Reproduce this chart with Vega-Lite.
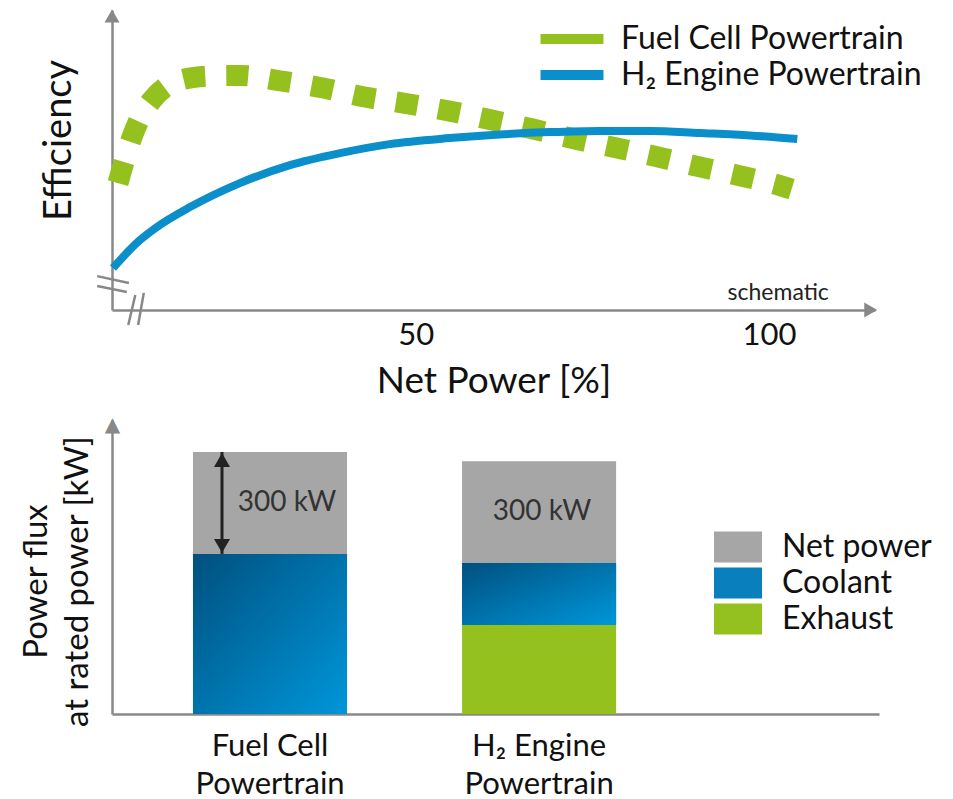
{
  "$schema": "https://vega.github.io/schema/vega-lite/v6.json",
  "background": "white",
  "padding": {"left": 20, "top": 9, "right": 0, "bottom": 0},
  "bounds": "flush",
  "spacing": 110,
  "config": {
    "font": "Lato",
    "view": {"stroke": null},
    "axis": {
      "domainColor": "#888888", "domainWidth": 2.5, "domainCap": "butt",
      "ticks": false, "grid": false,
      "labelFont": "Lato", "titleFont": "Lato",
      "labelColor": "#111111", "titleColor": "#111111", "titleFontWeight": "normal"
    },
    "legend": {"labelFont": "Lato", "labelColor": "#111111", "padding": 0, "labelLimit": 0}
  },
  "resolve": {"scale": {"color": "independent"}},
  "datasets": {
    "curves": [
      {"series": "Fuel Cell Powertrain", "p": 7.85, "eff": 42.3},
      {"series": "Fuel Cell Powertrain", "p": 8.7, "eff": 49.3},
      {"series": "Fuel Cell Powertrain", "p": 9.69, "eff": 56.7},
      {"series": "Fuel Cell Powertrain", "p": 10.96, "eff": 64.0},
      {"series": "Fuel Cell Powertrain", "p": 12.66, "eff": 70.0},
      {"series": "Fuel Cell Powertrain", "p": 14.8, "eff": 74.7},
      {"series": "Fuel Cell Powertrain", "p": 17.3, "eff": 77.0},
      {"series": "Fuel Cell Powertrain", "p": 20.9, "eff": 78.0},
      {"series": "Fuel Cell Powertrain", "p": 25.0, "eff": 78.2},
      {"series": "Fuel Cell Powertrain", "p": 31.1, "eff": 76.3},
      {"series": "Fuel Cell Powertrain", "p": 36.9, "eff": 74.0},
      {"series": "Fuel Cell Powertrain", "p": 42.8, "eff": 71.0},
      {"series": "Fuel Cell Powertrain", "p": 48.9, "eff": 68.7},
      {"series": "Fuel Cell Powertrain", "p": 54.8, "eff": 66.3},
      {"series": "Fuel Cell Powertrain", "p": 60.8, "eff": 63.3},
      {"series": "Fuel Cell Powertrain", "p": 66.6, "eff": 60.3},
      {"series": "Fuel Cell Powertrain", "p": 72.5, "eff": 57.0},
      {"series": "Fuel Cell Powertrain", "p": 78.5, "eff": 54.0},
      {"series": "Fuel Cell Powertrain", "p": 84.3, "eff": 51.0},
      {"series": "Fuel Cell Powertrain", "p": 90.2, "eff": 47.7},
      {"series": "Fuel Cell Powertrain", "p": 96.0, "eff": 44.7},
      {"series": "Fuel Cell Powertrain", "p": 101.8, "eff": 41.3},
      {"series": "Fuel Cell Powertrain", "p": 103.2, "eff": 40.3},
      {"series": "H₂ Engine Powertrain", "p": 7.14, "eff": 14.0},
      {"series": "H₂ Engine Powertrain", "p": 8.56, "eff": 17.7},
      {"series": "H₂ Engine Powertrain", "p": 10.96, "eff": 23.3},
      {"series": "H₂ Engine Powertrain", "p": 13.37, "eff": 27.7},
      {"series": "H₂ Engine Powertrain", "p": 18.04, "eff": 34.3},
      {"series": "H₂ Engine Powertrain", "p": 25.1, "eff": 42.3},
      {"series": "H₂ Engine Powertrain", "p": 32.2, "eff": 48.3},
      {"series": "H₂ Engine Powertrain", "p": 39.3, "eff": 52.3},
      {"series": "H₂ Engine Powertrain", "p": 46.3, "eff": 55.3},
      {"series": "H₂ Engine Powertrain", "p": 54.8, "eff": 57.3},
      {"series": "H₂ Engine Powertrain", "p": 61.9, "eff": 58.5},
      {"series": "H₂ Engine Powertrain", "p": 69.0, "eff": 59.3},
      {"series": "H₂ Engine Powertrain", "p": 76.1, "eff": 59.7},
      {"series": "H₂ Engine Powertrain", "p": 83.2, "eff": 59.7},
      {"series": "H₂ Engine Powertrain", "p": 90.2, "eff": 59.0},
      {"series": "H₂ Engine Powertrain", "p": 97.3, "eff": 58.2},
      {"series": "H₂ Engine Powertrain", "p": 104.0, "eff": 57.0}
    ],
    "breaks": [
      {"p": 4.9, "eff": 11.3, "p2": 9.4, "eff2": 9.0},
      {"p": 4.9, "eff": 8.0, "p2": 9.1, "eff2": 6.0},
      {"p": 9.3, "eff": -5.0, "p2": 10.3, "eff2": 5.0},
      {"p": 10.7, "eff": -5.0, "p2": 11.5, "eff2": 5.7}
    ],
    "arrows": [
      {"p": 7, "eff": 98, "dir": "up"},
      {"p": 114.4, "eff": 0, "dir": "right"}
    ],
    "notes": [
      {"p": 101.3, "eff": 5.7, "note": "schematic"}
    ],
    "flux": [
      {"train": "Fuel Cell Powertrain", "part": "Coolant", "kw": 471},
      {"train": "Fuel Cell Powertrain", "part": "Net power", "kw": 300},
      {"train": "H₂ Engine Powertrain", "part": "Exhaust", "kw": 262},
      {"train": "H₂ Engine Powertrain", "part": "Coolant", "kw": 182},
      {"train": "H₂ Engine Powertrain", "part": "Net power", "kw": 300}
    ]
  },
  "vconcat": [
    {
      "width": 763,
      "height": 300,
      "encoding": {
        "x": {"field": "p", "type": "quantitative",
          "scale": {"domain": [7, 115], "nice": false, "zero": false},
          "axis": {"values": [50, 100], "labelFontSize": 31, "labelPadding": 10, "labelFlush": false,
            "title": "Net Power [%]", "titleFontSize": 37, "titlePadding": 13}},
        "y": {"field": "eff", "type": "quantitative",
          "scale": {"domain": [0, 100], "nice": false, "zero": false},
          "axis": {"labels": false, "title": "Efficiency", "titleFontSize": 38, "titleAngle": 270,
            "titleAlign": "center", "titleBaseline": "middle", "titleX": -53, "titleY": 130}}
      },
      "layer": [
        {
          "data": {"name": "curves"},
          "transform": [{"filter": "datum.series === 'Fuel Cell Powertrain'"}],
          "mark": {"type": "line", "strokeWidth": 21, "strokeDash": [22, 21], "strokeCap": "butt", "interpolate": "monotone", "clip": false},
          "encoding": {
            "color": {"field": "series", "type": "nominal",
              "scale": {"domain": ["Fuel Cell Powertrain", "H₂ Engine Powertrain"], "range": ["#95c11f", "#0a8fcb"]},
              "legend": {"orient": "none", "legendX": 444, "legendY": 13, "title": null,
                "symbolType": "M-3,0H3", "symbolSize": 441, "symbolStrokeWidth": 10, "symbolDash": [1, 0],
                "labelFontSize": 32, "labelOffset": 33, "rowPadding": -5,
                "encode": {"symbols": {"update": {"strokeDash": {"value": [1, 0]}, "strokeWidth": {"value": 10}, "strokeCap": {"value": "butt"}}}}}}
          }
        },
        {
          "data": {"name": "curves"},
          "transform": [{"filter": "datum.series === 'H₂ Engine Powertrain'"}],
          "mark": {"type": "line", "strokeWidth": 8, "interpolate": "monotone", "clip": false},
          "encoding": {
            "color": {"field": "series", "type": "nominal"}
          }
        },
        {
          "data": {"name": "breaks"},
          "mark": {"type": "rule", "color": "#888888", "strokeWidth": 2.5},
          "encoding": {"x2": {"field": "p2"}, "y2": {"field": "eff2"}}
        },
        {
          "data": {"name": "arrows"},
          "mark": {"type": "point", "filled": true, "opacity": 1, "color": "#888888", "size": 225},
          "encoding": {"shape": {"field": "dir", "type": "nominal",
            "scale": {"domain": ["up", "right"], "range": ["triangle-up", "triangle-right"]}, "legend": null}}
        },
        {
          "data": {"name": "notes"},
          "mark": {"type": "text", "fontSize": 23, "color": "#222222", "font": "Lato"},
          "encoding": {"text": {"field": "note", "type": "nominal"}}
        }
      ]
    },
    {
      "width": 767,
      "height": 294,
      "data": {"name": "flux"},
      "transform": [{"stack": "kw", "groupby": ["train"], "as": ["y0", "y1"]}],
      "encoding": {
        "x": {"field": "train", "type": "nominal",
          "scale": {"domain": ["Fuel Cell Powertrain", "H₂ Engine Powertrain"], "paddingInner": 0.4275, "paddingOuter": 0.639, "align": 0.2355},
          "axis": {"title": null, "labelAngle": 0, "labelFontSize": 31, "labelLineHeight": 38, "labelPadding": 17,
            "labelBaseline": "top",
            "labelExpr": "[slice(datum.value, 0, indexof(datum.value, ' Powertrain')), 'Powertrain']"}}
      },
      "layer": [
        {
          "mark": {"type": "bar"},
          "encoding": {
            "y": {"field": "y0", "type": "quantitative",
              "scale": {"domain": [0, 865], "nice": false},
              "axis": {"values": [853], "labelExpr": "'▲'", "labelFont": "DejaVu Sans", "labelFontSize": 20,
                "labelColor": "#888888", "labelAlign": "center", "labelBaseline": "middle", "labelPadding": 0, "labelFlush": false,
                "title": ["Power flux", "at rated power [kW]"], "titleFontSize": 33, "titleLineHeight": 41,
                "titleAngle": 270, "titleAlign": "center", "titleBaseline": "middle", "titleX": -76, "titleY": 161}},
            "y2": {"field": "y1"},
            "color": {"field": "part", "type": "nominal",
              "scale": {"domain": ["Net power", "Coolant", "Exhaust"], "range": ["#a6a6a6", "#0a7fbd", "#95c11f"]},
              "legend": {"orient": "none", "legendX": 610, "legendY": 111, "title": null,
                "symbolType": "M-1.5,-0.97H1.5V0.97H-1.5Z", "symbolSize": 1024, "symbolStrokeWidth": 0,
                "labelFontSize": 32, "labelOffset": 28, "rowPadding": 4,
                "encode": {"symbols": {"update": {"fill": [
                  {"test": "datum.value === 'Coolant'", "value": {"gradient": "linear", "x1": 0, "y1": 0, "x2": 1, "y2": 1,
                    "stops": [{"offset": 0, "color": "#00507e"}, {"offset": 1, "color": "#0096da"}]}},
                  {"signal": "datum.value === 'Net power' ? '#a6a6a6' : '#95c11f'"}]}}}}}
          }
        },
        {
          "transform": [{"filter": "datum.part === 'Coolant'"}],
          "mark": {"type": "bar", "color": {"gradient": "linear", "x1": 0, "y1": 0, "x2": 1, "y2": 1,
            "stops": [{"offset": 0, "color": "#00507e"}, {"offset": 1, "color": "#0096da"}]}},
          "encoding": {"y": {"field": "y0", "type": "quantitative"}, "y2": {"field": "y1"}}
        },
        {
          "transform": [{"filter": "datum.part === 'Net power' && datum.train === 'Fuel Cell Powertrain'"}],
          "mark": {"type": "text", "text": {"expr": "datum.kw + ' kW'"}, "fontSize": 28, "color": "#333333", "xOffset": 17, "yOffset": 51, "baseline": "middle"},
          "encoding": {"y": {"field": "y1", "type": "quantitative"}}
        },
        {
          "transform": [{"filter": "datum.part === 'Net power' && datum.train === 'H₂ Engine Powertrain'"}],
          "mark": {"type": "text", "text": {"expr": "datum.kw + ' kW'"}, "fontSize": 28, "color": "#333333", "xOffset": 3, "yOffset": 51, "baseline": "middle"},
          "encoding": {"y": {"field": "y1", "type": "quantitative"}}
        },
        {
          "transform": [{"filter": "datum.part === 'Net power' && datum.train === 'Fuel Cell Powertrain'"}],
          "mark": {"type": "rule", "color": "#222222", "strokeWidth": 3, "xOffset": -48},
          "encoding": {"y": {"field": "y0", "type": "quantitative"}, "y2": {"field": "y1"}}
        },
        {
          "transform": [{"filter": "datum.part === 'Net power' && datum.train === 'Fuel Cell Powertrain'"}],
          "mark": {"type": "point", "shape": "triangle-up", "filled": true, "opacity": 1, "color": "#222222", "size": 256, "xOffset": -48, "yOffset": 8},
          "encoding": {"y": {"field": "y1", "type": "quantitative"}}
        },
        {
          "transform": [{"filter": "datum.part === 'Net power' && datum.train === 'Fuel Cell Powertrain'"}],
          "mark": {"type": "point", "shape": "triangle-down", "filled": true, "opacity": 1, "color": "#222222", "size": 256, "xOffset": -48, "yOffset": -8},
          "encoding": {"y": {"field": "y0", "type": "quantitative"}}
        }
      ]
    }
  ]
}
